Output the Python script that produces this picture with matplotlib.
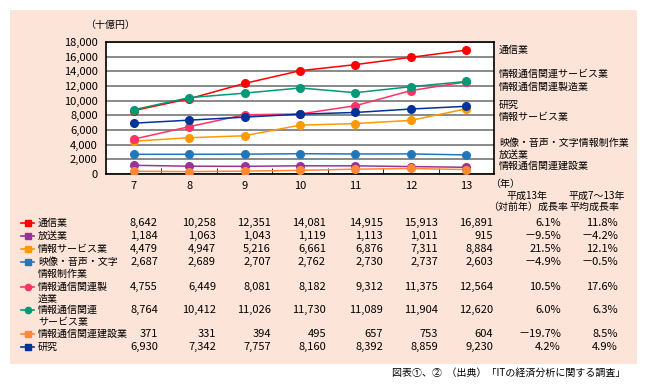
import matplotlib.pyplot as plt
import numpy as np
from matplotlib.patches import Rectangle
from matplotlib.lines import Line2D

plt.rcParams['font.family'] = ['Noto Sans CJK JP', 'DejaVu Sans']

# data
years = ['7', '8', '9', '10', '11', '12', '13']
names = ['通信業', '放送業', '情報サービス業', '映像・音声・文字\n情報制作業',
         '情報通信関連製\n造業', '情報通信関連\nサービス業', '情報通信関連建設業', '研究']
values = [
    [8642, 10258, 12351, 14081, 14915, 15913, 16891],
    [1184, 1063, 1043, 1119, 1113, 1011, 915],
    [4479, 4947, 5216, 6661, 6876, 7311, 8884],
    [2687, 2689, 2707, 2762, 2730, 2737, 2603],
    [4755, 6449, 8081, 8182, 9312, 11375, 12564],
    [8764, 10412, 11026, 11730, 11089, 11904, 12620],
    [371, 331, 394, 495, 657, 753, 604],
    [6930, 7342, 7757, 8160, 8392, 8859, 9230],
]
growth_yoy = ['6.1%', '－9.5%', '21.5%', '－4.9%', '10.5%', '6.0%', '－19.7%', '4.2%']
growth_avg = ['11.8%', '－4.2%', '12.1%', '－0.5%', '17.6%', '6.3%', '8.5%', '4.9%']
colors = ['#FF0000', '#993399', '#FF9900', '#2277BB', '#FF3366', '#009977', '#FF8833', '#003399']
legend_markers = ['s', 's', 's', 's', 'o', 'o', 's', 's']

# labels at right side of the chart (text, pixel y)
right_labels = [('通信業', 50), ('情報通信関連サービス業', 74), ('情報通信関連製造業', 87),
                ('研究', 105), ('情報サービス業', 117), ('映像・音声・文字情報制作業', 143),
                ('放送業', 155), ('情報通信関連建設業', 166)]

W, H = 647, 391
def fx(px):
    return px / W
def fy(py):
    return 1 - py / H

JP = 7.2    # japanese text size
NUM = 8     # number size

fig = plt.figure(figsize=(W / 100, H / 100), dpi=100)
fig.patch.set_facecolor('white')
fig.patches.append(Rectangle((fx(10), fy(364)), 627 / W, 354 / H, transform=fig.transFigure,
                             facecolor='#FCE4D8', edgecolor='none', zorder=-5))

ax = fig.add_axes([fx(106), fy(174), 388 / W, 132 / H])
ax.set_zorder(2)
ax.set_facecolor('white')
x = np.arange(len(years))
for vals, c in zip(values, colors):
    ax.plot(x, vals, color=c, lw=1.1, marker='o', ms=5.5, zorder=3)

ax.set_xlim(-0.5, 6.5)
ax.set_ylim(0, 18000)
ax.set_yticks(np.arange(0, 18001, 2000))
ax.set_yticklabels(['{:,}'.format(v) for v in range(0, 18001, 2000)], fontsize=NUM)
ax.yaxis.grid(True, color='#808080', lw=1.3)
ax.set_axisbelow(True)
ax.set_xticks(x)
ax.set_xticklabels(years, fontsize=NUM)
ax.set_xticks(np.arange(0.5, 6.5, 1), minor=True)
ax.tick_params(axis='x', which='major', length=0, pad=5)
ax.tick_params(axis='x', which='minor', direction='in', length=4, color='black')
ax.tick_params(axis='y', length=0, pad=6)
for s in ax.spines.values():
    s.set_color('black')
    s.set_linewidth(1.2)

fig.text(fx(85), fy(25), '（十億円）', fontsize=JP, va='center', ha='left')
fig.text(fx(490), fy(184), '（年）', fontsize=JP, va='center', ha='left')
for txt, py in right_labels:
    fig.text(fx(499), fy(py), txt, fontsize=JP, va='center', ha='left')

# table header
fig.text(fx(527), fy(196), '平成13年', fontsize=JP, va='center', ha='center')
fig.text(fx(528), fy(207), '（対前年）成長率', fontsize=JP, va='center', ha='center')
fig.text(fx(597), fy(196), '平成7～13年', fontsize=JP, va='center', ha='center')
fig.text(fx(594), fy(207), '平均成長率', fontsize=JP, va='center', ha='center')

row_y = [223, 236, 249, 262, 287, 310, 334, 347]
col_x = [158, 216, 271, 326, 383, 438, 493]
for i, name in enumerate(names):
    py = row_y[i]
    fig.add_artist(Line2D([fx(21), fx(34)], [fy(py), fy(py)], color=colors[i], lw=1.2,
                          transform=fig.transFigure))
    fig.add_artist(Line2D([fx(27.5)], [fy(py)], color=colors[i], marker=legend_markers[i],
                          ms=4.5, transform=fig.transFigure))
    for j, line in enumerate(name.split('\n')):
        fig.text(fx(38), fy(py + 11.5 * j), line, fontsize=JP, va='center', ha='left')
    for cx, v in zip(col_x, values[i]):
        fig.text(fx(cx), fy(py), '{:,}'.format(v), fontsize=NUM, va='center', ha='right')
    fig.text(fx(561), fy(py), growth_yoy[i], fontsize=NUM, va='center', ha='right')
    fig.text(fx(618), fy(py), growth_avg[i], fontsize=NUM, va='center', ha='right')

fig.text(fx(625), fy(373), '図表①、②  （出典）「ITの経済分析に関する調査」', fontsize=JP,
         va='center', ha='right')

fig.savefig('out.png', dpi=100)
